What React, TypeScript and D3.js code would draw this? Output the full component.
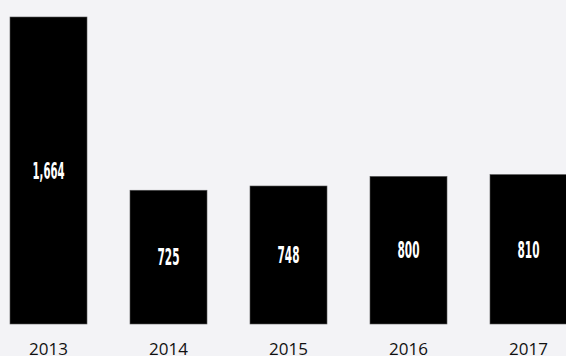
import React from "react";
import * as d3 from "d3";

const years = ["2013", "2014", "2015", "2016", "2017"];
const values = [1664, 725, 748, 800, 810];
const valueLabels = ["1,664", "725", "748", "800", "810"];

const W = 566;
const H = 356;

export default function App() {
  React.useEffect(() => {
    document.body.style.margin = "0";
  }, []);
  const x = d3
    .scaleBand<string>()
    .domain(years)
    .range([-11.5, 588.5])
    .paddingInner(43 / 120)
    .paddingOuter(43 / 240);
  const y = d3.scaleLinear().domain([0, 1664]).range([324, 17]);
  const condensed = "'Liberation Sans Narrow', 'DejaVu Sans Condensed', 'Roboto Condensed', sans-serif";
  return (
    <svg width={W} height={H} style={{ display: "block", position: "absolute", left: 0, top: 0 }}>
      <rect x={0} y={0} width={W} height={H} fill="#f3f3f6" />
      {years.map((yr, i) => {
        const bx = x(yr)!;
        const bw = x.bandwidth();
        const top = y(values[i]);
        const mid = (top + y(0)) / 2;
        const lbl = valueLabels[i];
        return (
          <g key={yr}>
            <rect x={bx} y={top} width={bw} height={y(0) - top} fill="#000" stroke="#555" strokeWidth={0.6} />
            <text
              x={bx + bw / 2}
              y={mid}
              dy="0.36em"
              textAnchor="middle"
              fill="#fff"
              fontFamily={condensed}
              fontWeight="bold"
              fontSize={23}
              textLength={lbl.length === 5 ? 32 : 22}
              lengthAdjust="spacingAndGlyphs"
            >
              {lbl}
            </text>
            <text
              x={bx + bw / 2}
              y={355}
              textAnchor="middle"
              fill="#111"
              fontFamily="'Open Sans', sans-serif"
              fontSize={17}
            >
              {yr}
            </text>
          </g>
        );
      })}
    </svg>
  );
}
